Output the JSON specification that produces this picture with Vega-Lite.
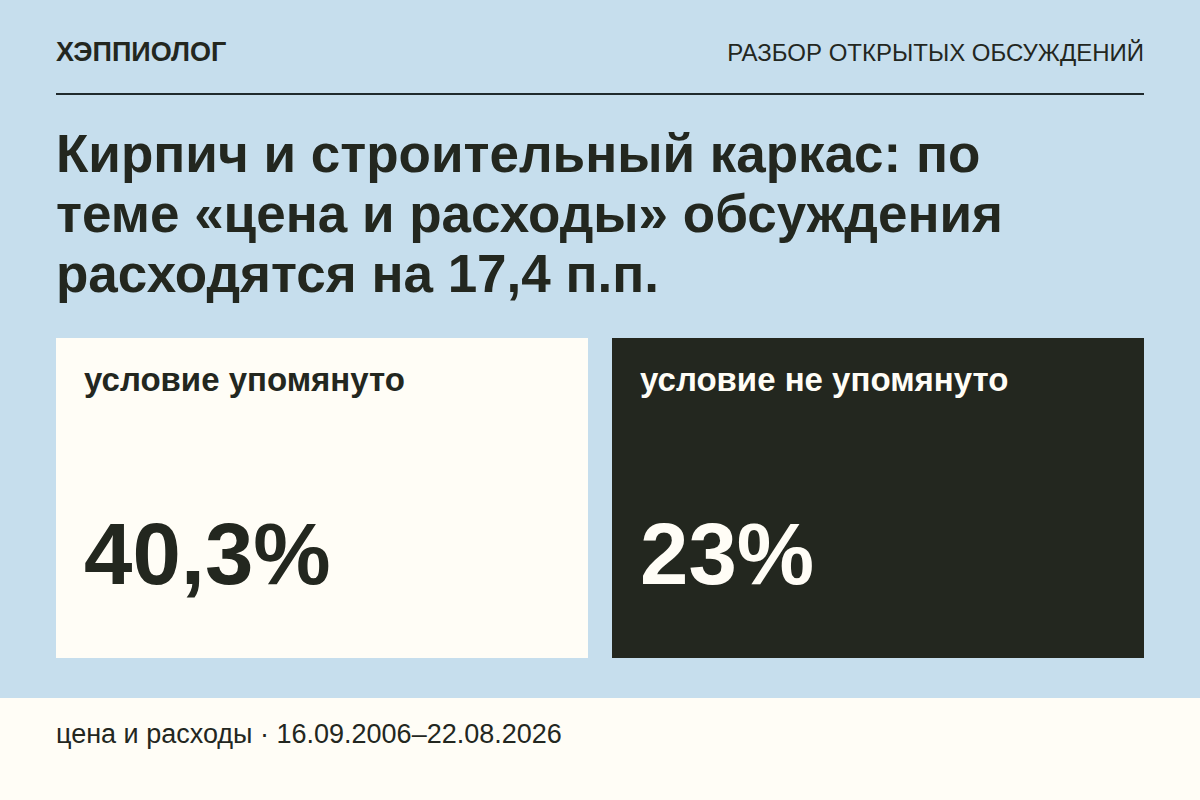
{
  "$schema": "https://vega.github.io/schema/vega-lite/v6.json",
  "autosize": {"type": "fit", "contains": "padding"},
  "width": 1200,
  "height": 800,
  "padding": 0,
  "background": "#c6deed",
  "config": {"view": {"stroke": null}, "text": {"font": "Liberation Sans"}},
  "datasets": {
    "panels": [
      {"condition": "условие упомянуто", "value": 40.3, "label": "40,3%"},
      {"condition": "условие не упомянуто", "value": 23, "label": "23%"}
    ]
  },
  "resolve": {"scale": {"color": "independent"}},
  "layer": [
    {
      "data": {"values": [{"part": "footer"}]},
      "mark": {"type": "rect", "color": "#fffdf6"},
      "encoding": {
        "x": {"value": 0},
        "x2": {"value": 1200},
        "y": {"value": 698},
        "y2": {"value": 800}
      }
    },
    {
      "data": {"values": [{"part": "header rule"}]},
      "mark": {"type": "rule", "color": "#1f2a2d", "strokeWidth": 2},
      "encoding": {
        "x": {"value": 56},
        "x2": {"value": 1144},
        "y": {"value": 94}
      }
    },
    {
      "data": {"values": [{"text": "ХЭППИОЛОГ"}]},
      "mark": {"type": "text", "align": "left", "baseline": "alphabetic", "fontSize": 27, "fontWeight": "bold", "color": "#23271f"},
      "encoding": {
        "text": {"field": "text"},
        "x": {"value": 56},
        "y": {"value": 61}
      }
    },
    {
      "data": {"values": [{"text": "РАЗБОР ОТКРЫТЫХ ОБСУЖДЕНИЙ"}]},
      "mark": {"type": "text", "align": "right", "baseline": "alphabetic", "fontSize": 24, "color": "#23271f"},
      "encoding": {
        "text": {"field": "text"},
        "x": {"value": 1144},
        "y": {"value": 61}
      }
    },
    {
      "data": {"values": [{"text": "Кирпич и строительный каркас: по\nтеме «цена и расходы» обсуждения\nрасходятся на 17,4 п.п."}]},
      "mark": {"type": "text", "align": "left", "baseline": "alphabetic", "fontSize": 53, "fontWeight": "bold", "lineBreak": "\n", "lineHeight": 60, "color": "#23271f"},
      "encoding": {
        "text": {"field": "text"},
        "x": {"value": 56},
        "y": {"value": 172}
      }
    },
    {
      "data": {"name": "panels"},
      "mark": {"type": "bar"},
      "encoding": {
        "x": {
          "field": "condition",
          "type": "nominal",
          "axis": null,
          "scale": {"domain": ["условие упомянуто", "условие не упомянуто"], "range": [56, 1144], "paddingInner": 0.04317, "paddingOuter": 0}
        },
        "y": {"value": 338},
        "y2": {"value": 658},
        "color": {
          "field": "condition",
          "type": "nominal",
          "legend": null,
          "scale": {"domain": ["условие упомянуто", "условие не упомянуто"], "range": ["#fffdf6", "#23271f"]}
        }
      }
    },
    {
      "data": {"name": "panels"},
      "mark": {"type": "text", "align": "left", "baseline": "alphabetic", "fontSize": 33, "fontWeight": "bold", "xOffset": 28},
      "encoding": {
        "text": {"field": "condition"},
        "x": {"field": "condition", "type": "nominal", "axis": null, "bandPosition": 0},
        "y": {"value": 391},
        "color": {
          "field": "condition",
          "type": "nominal",
          "legend": null,
          "scale": {"domain": ["условие упомянуто", "условие не упомянуто"], "range": ["#23271f", "#fffdf6"]}
        }
      }
    },
    {
      "data": {"name": "panels"},
      "mark": {"type": "text", "align": "left", "baseline": "alphabetic", "fontSize": 87, "fontWeight": "bold", "xOffset": 28},
      "encoding": {
        "text": {"field": "label"},
        "x": {"field": "condition", "type": "nominal", "axis": null, "bandPosition": 0},
        "y": {"value": 584},
        "color": {
          "field": "condition",
          "type": "nominal",
          "legend": null,
          "scale": {"domain": ["условие упомянуто", "условие не упомянуто"], "range": ["#23271f", "#fffdf6"]}
        }
      }
    },
    {
      "data": {"values": [{"text": "цена и расходы · 16.09.2006–22.08.2026"}]},
      "mark": {"type": "text", "align": "left", "baseline": "alphabetic", "fontSize": 27, "color": "#23271f"},
      "encoding": {
        "text": {"field": "text"},
        "x": {"value": 56},
        "y": {"value": 743}
      }
    }
  ]
}
